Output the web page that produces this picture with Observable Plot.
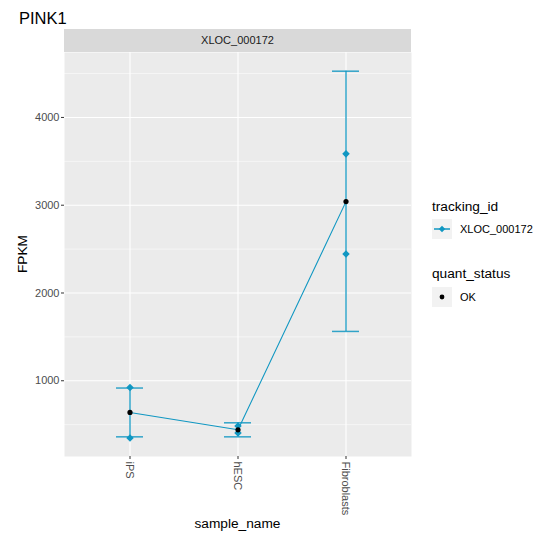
<!DOCTYPE html>
<html><head><meta charset="utf-8">
<script src="https://cdn.jsdelivr.net/npm/d3@7"></script>
<script src="https://cdn.jsdelivr.net/npm/@observablehq/plot@0.6"></script>
<style>body{margin:0;background:#fff;} svg{display:block}</style>
</head><body><div id="chart"></div>
<script>
const title = "PINK1";
const trackingId = "XLOC_000172";
const quantStatus = "OK";
const samples = ["iPS", "hESC", "Fibroblasts"];
const fpkm = [639, 441, 3041];
const confLo = [361, 361, 1562];
const confHi = [917, 521, 4527];
const repSample = ["iPS", "iPS", "hESC", "hESC", "Fibroblasts", "Fibroblasts"];
const repValue = [924, 347, 485, 405, 3585, 2445];
const majorTicks = [1000, 2000, 3000, 4000];
const minorTicks = [500, 1500, 2500, 3500, 4500];

const rows = samples.map((s, i) => ({sample: s, fpkm: fpkm[i], lo: confLo[i], hi: confHi[i], id: trackingId}));
const reps = repSample.map((s, i) => ({sample: s, value: repValue[i]}));

const W = 539, H = 538;
const pL = 64, pR = 411, pT = 52, pB = 456;
const col = "#1097C2";
const font = "'Liberation Sans', Arial, Helvetica, sans-serif";

const chart = Plot.plot({
  width: W, height: H,
  marginLeft: pL, marginRight: W - pR, marginTop: pT, marginBottom: H - pB,
  style: {fontFamily: font, background: "white", overflow: "visible"},
  x: {type: "band", domain: samples, paddingInner: 0.75, paddingOuter: 0.475},
  y: {domain: [137, 4740]},
  marks: [
    Plot.frame({fill: "#EBEBEB", stroke: null}),
    Plot.gridY(minorTicks, {stroke: "white", strokeOpacity: 1, strokeWidth: 0.55}),
    Plot.gridY(majorTicks, {stroke: "white", strokeOpacity: 1, strokeWidth: 1.1}),
    Plot.gridX(samples, {stroke: "white", strokeOpacity: 1, strokeWidth: 1.1}),
    Plot.axisY(majorTicks, {tickSize: 3, tickPadding: 2, fontSize: 11, fill: "#4D4D4D", stroke: "#333", tickFormat: d3.format("d"), label: null}),
    Plot.axisX(samples, {tickSize: 3, tickPadding: 2, fontSize: 11, fill: "#4D4D4D", stroke: "#333", tickRotate: 90, label: null}),
    Plot.ruleX(rows, {x: "sample", y1: "lo", y2: "hi", stroke: col, strokeWidth: 1.5, strokeOpacity: 0.85}),
    Plot.tickY(rows, {x: "sample", y: "lo", stroke: col, strokeWidth: 1.5, strokeOpacity: 0.85}),
    Plot.tickY(rows, {x: "sample", y: "hi", stroke: col, strokeWidth: 1.5, strokeOpacity: 0.85}),
    Plot.line(rows, {x: "sample", y: "fpkm", stroke: col, strokeWidth: 1.1}),
    Plot.dot(reps, {x: "sample", y: "value", symbol: "diamond2", r: 3.4, fill: col, stroke: null}),
    Plot.dot(rows, {x: "sample", y: "fpkm", r: 2.6, fill: "black", stroke: null})
  ]
});
document.getElementById("chart").appendChild(chart);

const svg = d3.select(chart);
const g = svg.append("g").attr("font-family", font).attr("text-anchor", "start");
// title
g.append("text").attr("x", 19).attr("y", 24).attr("font-size", 16.5).attr("fill", "black").text(title);
// strip
g.append("rect").attr("x", pL).attr("y", 29).attr("width", pR - pL).attr("height", pT - 29).attr("fill", "#D9D9D9");
g.append("text").attr("x", (pL + pR) / 2).attr("y", 40.5).attr("dy", "0.35em").attr("text-anchor", "middle")
  .attr("font-size", 11).attr("fill", "#1A1A1A").text(trackingId);
// axis titles
g.append("text").attr("x", (pL + pR) / 2).attr("y", 528).attr("text-anchor", "middle").attr("font-size", 13.7).attr("fill", "black").text("sample_name");
g.append("text").attr("transform", `translate(27,${(pT + pB) / 2}) rotate(-90)`).attr("text-anchor", "middle").attr("font-size", 13.7).attr("fill", "black").text("FPKM");
// legend 1
g.append("text").attr("x", 432).attr("y", 211).attr("font-size", 13.7).attr("fill", "black").text("tracking_id");
g.append("rect").attr("x", 432).attr("y", 219).attr("width", 20).attr("height", 20).attr("fill", "#F2F2F2");
g.append("line").attr("x1", 434).attr("x2", 450).attr("y1", 229).attr("y2", 229).attr("stroke", col).attr("stroke-width", 1.5);
g.append("path").attr("d", d3.symbol(d3.symbolDiamond2, 26)()).attr("transform", "translate(442,229)").attr("fill", col);
g.append("text").attr("x", 460).attr("y", 229).attr("dy", "0.35em").attr("font-size", 11).attr("fill", "black").text(trackingId);
// legend 2
g.append("text").attr("x", 432).attr("y", 278).attr("font-size", 13.7).attr("fill", "black").text("quant_status");
g.append("rect").attr("x", 432).attr("y", 287).attr("width", 20).attr("height", 20).attr("fill", "#F2F2F2");
g.append("circle").attr("cx", 442).attr("cy", 297).attr("r", 2.4).attr("fill", "black");
g.append("text").attr("x", 460).attr("y", 297).attr("dy", "0.35em").attr("font-size", 11).attr("fill", "black").text(quantStatus);
</script></body></html>
